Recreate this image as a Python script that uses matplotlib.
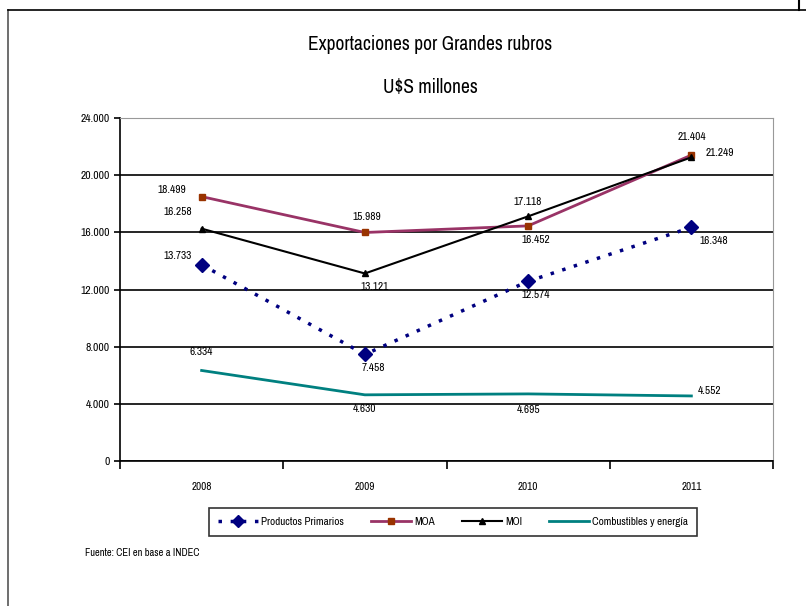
import numpy as np
import matplotlib
matplotlib.use('Agg')
import matplotlib.pyplot as plt
from matplotlib import font_manager
from matplotlib.lines import Line2D

# buscar una fuente angosta (tipo Arial Narrow) si existe
narrow = [f.name for f in font_manager.fontManager.ttflist
          if 'Narrow' in f.name or 'Condensed' in f.name]
plt.rcParams['font.family'] = (narrow[:1] if narrow else []) + ['Liberation Sans', 'DejaVu Sans']

years = ['2008', '2009', '2010', '2011']
primarios = [13733, 7458, 12574, 16348]
moa = [18499, 15989, 16452, 21404]
moi = [16258, 13121, 17118, 21249]
combustibles = [6334, 4630, 4695, 4552]
yticks = [0, 4000, 8000, 12000, 16000, 20000, 24000]


def fmt(v):
    return '{:,}'.format(v).replace(',', '.')


fig = plt.figure(figsize=(8.06, 6.06), dpi=100, facecolor='white')

# marco exterior
fig.add_artist(Line2D([8 / 806, 8 / 806], [0, 1 - 10 / 606], color='#555555', lw=1.2, transform=fig.transFigure))
fig.add_artist(Line2D([8 / 806, 1], [1 - 10 / 606, 1 - 10 / 606], color='black', lw=1.2, transform=fig.transFigure))
fig.add_artist(Line2D([799 / 806, 799 / 806], [1 - 10 / 606, 1], color='black', lw=1.5, transform=fig.transFigure))

fig.text(430 / 806, 1 - 45 / 606, 'Exportaciones por Grandes rubros', ha='center', va='center', fontsize=14)
fig.text(430 / 806, 1 - 87 / 606, 'U$S millones', ha='center', va='center', fontsize=14)

ax = fig.add_axes([120 / 806, (606 - 461) / 606, 653 / 806, 343 / 606])
x = np.arange(len(years))

ax.plot(x, primarios, color='#000080', lw=2.5, ls=(0, (1, 2.5)), marker='D', ms=7, label='Productos Primarios')
ax.plot(x, moa, color='#993366', lw=2, marker='s', ms=5, mfc='#993300', mec='#993300', label='MOA')
ax.plot(x, moi, color='black', lw=1.5, marker='^', ms=5, label='MOI')
ax.plot(x, combustibles, color='#008080', lw=2, label='Combustibles y energía')

ax.set_xlim(-0.5, 3.5)
ax.set_ylim(0, 24000)
ax.set_yticks(yticks)
ax.set_yticklabels([fmt(v) for v in yticks], fontsize=8.3)
ax.set_xticks(x)
ax.set_xticklabels(years, fontsize=8)
ax.set_xticks(np.arange(-0.5, 4, 1), minor=True)
ax.tick_params(axis='x', which='major', length=0, pad=15)
ax.tick_params(axis='x', which='minor', length=6, direction='out', width=1.2)
ax.tick_params(axis='y', length=4, direction='out', width=1.2)
ax.grid(axis='y', color='black', lw=1.2)
ax.set_axisbelow(True)
for s in ['top', 'right']:
    ax.spines[s].set_color('#999999')
for s in ['left', 'bottom']:
    ax.spines[s].set_linewidth(1.2)

kw = dict(textcoords='offset pixels', fontsize=8.2, ha='center', va='center')
offs = {
    'pp': [(-24, 9), (8, -14), (8, -14), (22, -14)],
    'moa': [(-30, 7), (2, 15), (8, -14), (0, 18)],
    'moi': [(-24, 17), (10, -14), (0, 14), (28, 4)],
    'comb': [(0, 18), (0, -14), (0, -16), (18, 5)],
}
for key, vals in [('pp', primarios), ('moa', moa), ('moi', moi), ('comb', combustibles)]:
    for i, v in enumerate(vals):
        ax.annotate(fmt(v), (x[i], v), xytext=offs[key][i], **kw)

# leyenda con marco
handles = [
    Line2D([], [], color='#000080', lw=2.5, ls=(0, (1, 2.5)), marker='D', ms=6),
    Line2D([], [], color='#993366', lw=2, marker='s', ms=5, mfc='#993300', mec='#993300'),
    Line2D([], [], color='black', lw=1.5, marker='^', ms=5),
    Line2D([], [], color='#008080', lw=2),
]
leg = fig.legend(handles, ['Productos Primarios', 'MOA', 'MOI', 'Combustibles y energía'],
                 loc='center', bbox_to_anchor=(453 / 806, 1 - 522 / 606), ncol=4, fontsize=8,
                 frameon=True, fancybox=False, edgecolor='black', handlelength=3.6,
                 handletextpad=0.3, columnspacing=2.4, borderpad=0.8)
leg.get_frame().set_linewidth(1.2)

fig.text(85 / 806, 1 - 553 / 606, 'Fuente: CEI en base a INDEC', fontsize=7.5, va='center')

fig.savefig('out.png', dpi=100, facecolor='white')
